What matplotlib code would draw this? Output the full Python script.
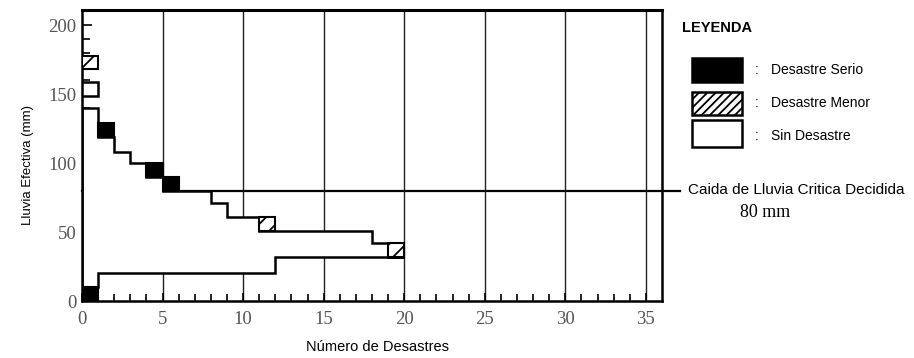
import numpy as np
import matplotlib.pyplot as plt
from matplotlib.patches import Rectangle, Polygon

plt.rcParams['font.family'] = ['Liberation Sans', 'DejaVu Sans']
plt.rcParams['hatch.linewidth'] = 1.3

# --- data ---
# white area: top level on each x interval, then bottom level
upper_edges = [0, 1, 2, 3, 4, 5, 6, 8, 9, 11, 12, 18, 19, 20]
upper_levels = [140, 119, 108, 100, 90, 80, 80, 71, 61, 51, 51, 42, 32]
lower_edges = [0, 1, 12, 20]
lower_levels = [10, 20, 32]

# boxes (x of left edge, y of bottom edge)
serious_x = [0, 1, 4, 5]
serious_y = [0, 119, 90, 80]
minor_x = [0, 11, 19]
minor_y = [168, 51, 32]
none_x = [0]
none_y = [149]

critical_rain = 80
x_ticks = [0, 5, 10, 15, 20, 25, 30, 35]
y_ticks = [0, 50, 100, 150, 200]

legend_labels = ['Desastre Serio', 'Desastre Menor', 'Sin Desastre']

W, H = 914, 358
fig = plt.figure(figsize=(W / 100, H / 100), dpi=100)
ax = fig.add_axes([82 / W, 1 - 301 / H, 580 / W, 291 / H])
ax.set_xlim(0, 36)
ax.set_ylim(0, 211)


def steps(edges, levels):
    pts = []
    for i, lv in enumerate(levels):
        pts.append((edges[i], lv))
        pts.append((edges[i + 1], lv))
    return pts


# vertical grid lines (hidden behind the white area)
for xv in x_ticks[1:]:
    ax.axvline(xv, color='#222222', lw=1.0, zorder=1)

# critical rainfall line, runs out past the frame
ax.plot([0, 37.1], [critical_rain, critical_rain], color='black', lw=1.6,
        zorder=1.5, clip_on=False)

verts = steps(upper_edges, upper_levels) + steps(lower_edges, lower_levels)[::-1]
ax.add_patch(Polygon(verts, closed=True, facecolor='white', edgecolor='black',
                     lw=1.8, zorder=2))

for x, y in zip(serious_x, serious_y):
    ax.add_patch(Rectangle((x, y), 1, 10, facecolor='black', edgecolor='black',
                           lw=1.5, zorder=3))
for x, y in zip(minor_x, minor_y):
    ax.add_patch(Rectangle((x, y), 1, 10, facecolor='white', edgecolor='black',
                           hatch='//', lw=1.5, zorder=3))
for x, y in zip(none_x, none_y):
    ax.add_patch(Rectangle((x, y), 1, 10, facecolor='white', edgecolor='black',
                           lw=1.8, zorder=3))

ax.set_xticks(x_ticks)
ax.set_xticks(np.arange(0, 36), minor=True)
ax.set_yticks(y_ticks)
ax.set_yticks(np.arange(0, 211, 10), minor=True)
ax.tick_params(which='both', direction='in', width=1.2, color='black')
ax.tick_params(axis='x', which='major', length=6, pad=7)
ax.tick_params(axis='x', which='minor', length=5)
ax.tick_params(axis='y', which='major', length=7, pad=4)
ax.tick_params(axis='y', which='minor', length=6)
for lab in ax.get_xticklabels() + ax.get_yticklabels():
    lab.set_fontfamily('Liberation Serif')
    lab.set_fontsize(13.5)
    lab.set_color('#555555')
for sp in ax.spines.values():
    sp.set_linewidth(1.8)
ax.spines['top'].set_linewidth(2.2)

fig.text(28 / W, 1 - 165 / H, 'Lluvia Efectiva (mm)', rotation=90,
         ha='center', va='center', fontsize=9.5)
fig.text(377 / W, 1 - 347 / H, 'Número de Desastres', ha='center',
         va='center', fontsize=10.5)

# --- legend drawn by hand ---
def px(x, y):
    return x / W, 1 - y / H

fig.text(*px(682, 28), 'LEYENDA', fontsize=10.5, fontweight='bold', va='center')
boxes = [(58, 82, dict(facecolor='black')),
         (92, 115, dict(facecolor='white', hatch='////')),
         (120, 147, dict(facecolor='white'))]
text_y = [70, 103, 136]
for (top, bot, style), ty, lab in zip(boxes, text_y, legend_labels):
    x0, y0 = px(692, bot)
    fig.add_artist(Rectangle((x0, y0), 50 / W, (bot - top) / H,
                             transform=fig.transFigure, edgecolor='black',
                             lw=1.8, **style))
    fig.text(*px(755, ty), ':', fontsize=10, va='center')
    fig.text(*px(771, ty), lab, fontsize=10, va='center')

fig.text(*px(688, 190), 'Caida de Lluvia Critica Decidida', fontsize=11,
         va='center')
fig.text(*px(740, 212), '80 mm', fontsize=13, va='center',
         fontfamily='Liberation Serif')

fig.savefig('out.png', dpi=100)
